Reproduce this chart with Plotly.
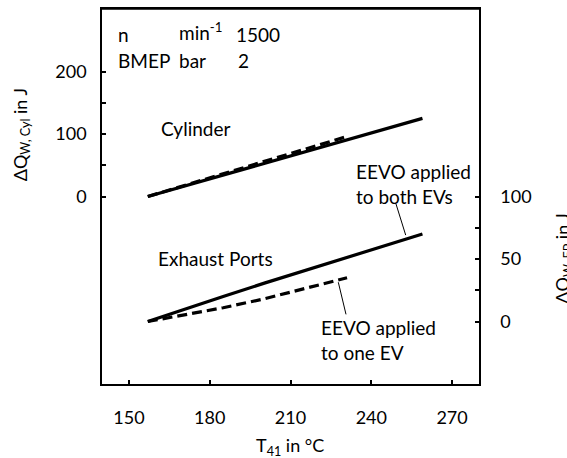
import plotly.graph_objects as go

# ---------------- data ----------------
T_cyl_both = [157, 170, 185, 200, 215, 230, 245, 259]
Q_cyl_both = [0, 16, 34, 53, 71, 89, 108, 125]
T_cyl_one = [157, 170, 185, 200, 215, 231]
Q_cyl_one = [0, 17, 36, 56, 76, 96]

T_ep_both = [157, 170, 185, 200, 215, 230, 245, 259]
Q_ep_both = [0, 9.5, 20, 30.5, 40.5, 50.5, 60.5, 70]
T_ep_one = [157, 170, 185, 200, 215, 231]
Q_ep_one = [0, 5, 11, 18, 26, 35]

x_ticks = [150, 180, 210, 240, 270]
y_cyl_ticks = [0, 50, 100, 150, 200]
y_cyl_ticktext = ["0", "", "100", "", "200"]
y_ep_ticks = [0, 25, 50, 75, 100]
y_ep_ticktext = ["0", "", "50", "", "100"]

# ---------------- layout geometry ----------------
W, H = 567, 458
L, R, T, B = 102, 88, 7, 74
PW, PH = W - L - R, H - T - B
FONT = "Lato"
FS = 18
FS_TXT = 19


def px(x):
    return (x - L) / PW


def py(y):
    return (H - B - y) / PH


fig = go.Figure()
line_solid = dict(color="black", width=3.2)
line_dash = dict(color="black", width=3.2, dash="10px,5px")

fig.add_trace(go.Scatter(x=T_cyl_both, y=Q_cyl_both, mode="lines", line=line_solid,
                         yaxis="y", showlegend=False))
fig.add_trace(go.Scatter(x=T_cyl_one, y=Q_cyl_one, mode="lines", line=line_dash,
                         yaxis="y", showlegend=False))
fig.add_trace(go.Scatter(x=T_ep_both, y=Q_ep_both, mode="lines", line=line_solid,
                         yaxis="y2", showlegend=False))
fig.add_trace(go.Scatter(x=T_ep_one, y=Q_ep_one, mode="lines", line=line_dash,
                         yaxis="y2", showlegend=False))

font = dict(family=FONT, size=FS, color="black")
font_txt = dict(family=FONT, size=FS_TXT, color="black")
annots = []


def txt(text, x, y, xa="left", ya="middle", angle=0, f=None):
    annots.append(dict(text=text, x=px(x), y=py(y), xref="paper", yref="paper",
                       xanchor=xa, yanchor=ya, showarrow=False, font=f or font_txt,
                       textangle=angle, align="left"))


# top-left info
txt("n", 116, 33)
txt("min<sup>-1</sup>", 177, 29.5)
txt("1500", 234, 33)
txt("BMEP", 116, 59)
txt("bar", 177, 59)
txt("2", 236, 59)
# curve labels
txt("Cylinder", 159, 127)
txt("Exhaust Ports", 156, 258)
txt("EEVO applied<br>to both EVs", 354, 183)
txt("EEVO applied<br>to one EV", 319, 340)
# axis titles
txt("ΔQ<sub>W, Cyl</sub> in J", 21, 134, xa="center", angle=-90, f=font)
txt("ΔQ<sub>W, EP</sub> in J", 564, 258, xa="center", angle=-90, f=font)
txt("T<sub>41</sub> in °C", 290, 447, xa="center", f=font)

shapes = [
    dict(type="line", xref="paper", yref="paper", x0=px(396), y0=py(203),
         x1=px(405.7), y1=py(234.3), line=dict(color="black", width=1)),
    dict(type="line", xref="paper", yref="paper", x0=px(338.3), y0=py(281.7),
         x1=px(346), y1=py(314), line=dict(color="black", width=1)),
    dict(type="line", xref="paper", yref="paper", x0=0, x1=1, y0=1, y1=1,
         line=dict(color="black", width=1.5)),
]

axis_common = dict(showgrid=False, zeroline=False, showline=True, linecolor="black",
                   linewidth=1.5, ticks="inside", ticklen=4, tickwidth=1.5,
                   tickcolor="black", tickfont=font)

fig.update_layout(
    width=W, height=H,
    margin=dict(l=L, r=R, t=T, b=B),
    paper_bgcolor="white", plot_bgcolor="white",
    font=font,
    xaxis=dict(range=[140, 280], tickvals=x_ticks, mirror=True,
               ticklabelstandoff=17, **axis_common),
    yaxis=dict(range=[-300, 300], tickvals=y_cyl_ticks, ticktext=y_cyl_ticktext,
               ticklabelstandoff=10, **axis_common),
    yaxis2=dict(range=[-50, 250], tickvals=y_ep_ticks, ticktext=y_ep_ticktext,
                overlaying="y", side="right", ticklabelstandoff=16, **axis_common),
    annotations=annots,
    shapes=shapes,
)

fig.write_html("out.html")
